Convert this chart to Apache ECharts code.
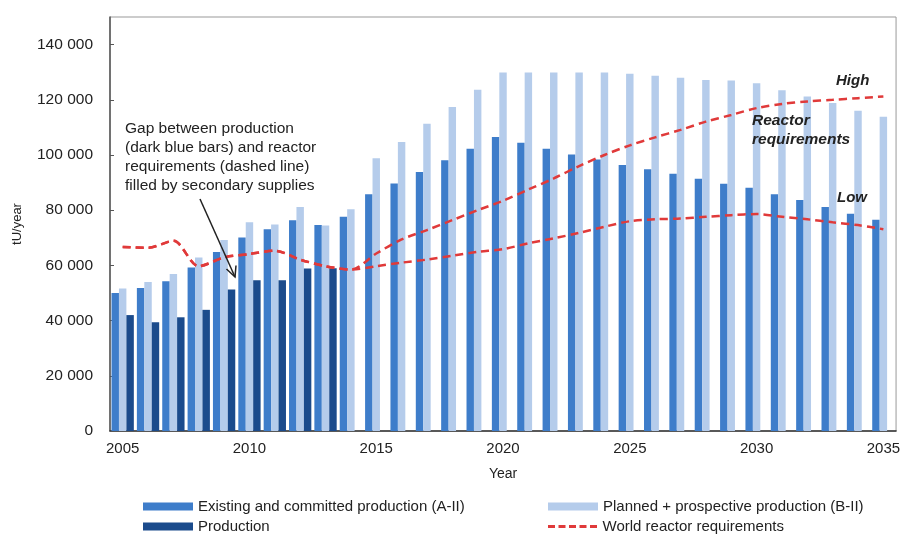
<!DOCTYPE html>
<html>
<head>
<meta charset="utf-8">
<script src="https://cdn.jsdelivr.net/npm/echarts@6/dist/echarts.min.js"></script>
<style>html,body{margin:0;padding:0;background:#fff;}#c{width:903px;height:537px;}</style>
</head>
<body>
<div id="c"></div>
<script>
var years = ['2005','2006','2007','2008','2009','2010','2011','2012','2013','2014','2015','2016','2017','2018','2019','2020','2021','2022','2023','2024','2025','2026','2027','2028','2029','2030','2031','2032','2033','2034','2035'];
var existing = [50000,51800,54300,59200,64900,70100,73100,76400,74600,77600,85800,89700,93800,98100,102300,106500,104400,102300,100200,98400,96400,94800,93200,91400,89600,88100,85800,83700,81200,78700,76500];
var planned = [51600,54000,56900,62900,69200,75600,74800,81200,74500,80300,98800,104700,111300,117400,123600,129900,129900,129900,129900,129900,129400,128700,128000,127200,127000,126000,123500,121200,118800,116000,113900];
var production = [42000,39400,41200,43900,51300,54600,54600,58900,59000,null,null,null,null,null,null,null,null,null,null,null,null,null,null,null,null,null,null,null,null,null,null];
var reqHigh = [66700,66400,68900,59700,62900,64100,65300,62100,59700,58500,64300,69400,72800,76400,80000,83400,87500,91500,96000,100000,103500,106400,109100,112100,114500,117000,118500,119400,120000,120600,121200];
var reqLow = [66700,66400,68900,59700,62900,64100,65300,62100,59700,58500,59700,61000,62100,63500,64900,65900,68000,69800,71800,74000,76000,76700,77000,77600,78200,78600,77600,76700,75600,74600,73100];

var FONT = '"Liberation Sans", Arial, sans-serif';
var BLUE = '#3e7dca', LIGHT = '#b5cceb', DARK = '#1b4b8c', RED = '#e03a3a';
var chart = echarts.init(document.getElementById('c'));
var reqName = 'World reactor requirements';
var legTxt = {fontSize: 15, color: '#222', fontFamily: FONT};
function leg(name, icon, left, top, h) {
  return {data: [{name: name, icon: icon}], orient: 'horizontal', left: left, top: top,
    itemWidth: 50, itemHeight: h, itemGap: 0, padding: 0, textStyle: legTxt};
}
var dashIcon = 'path://M0,0h7v3h-7z M10.5,0h7v3h-7z M21,0h7v3h-7z M31.5,0h7v3h-7z M42,0h7v3h-7z';
chart.setOption({
  animation: false,
  textStyle: {fontFamily: FONT},
  grid: {left: 110, right: 3, top: 17, bottom: 106, show: true, borderColor: '#999', borderWidth: 1},
  legend: [
    leg('Existing and committed production (A-II)', 'rect', 143, 499, 8),
    leg('Production', 'rect', 143, 519, 8),
    leg('Planned + prospective production (B-II)', 'rect', 548, 499, 8),
    leg(reqName, dashIcon, 548, 519, 3)
  ],
  xAxis: {
    type: 'category', data: years, boundaryGap: true,
    name: 'Year', nameLocation: 'middle', nameGap: 36,
    nameTextStyle: {fontSize: 14, color: '#222', fontFamily: FONT},
    axisLine: {lineStyle: {color: '#333', width: 1.5}},
    axisTick: {inside: true, length: 4, interval: 0, lineStyle: {color: '#333'}},
    axisLabel: {interval: 4, fontSize: 15, color: '#222', margin: 10, fontFamily: FONT}
  },
  yAxis: {
    type: 'value', min: 0, max: 150000, interval: 20000,
    name: 'tU/year', nameLocation: 'middle', nameGap: 86, nameRotate: 90,
    nameTextStyle: {fontSize: 13, color: '#222', fontFamily: FONT},
    axisLine: {show: true, lineStyle: {color: '#555', width: 1.5}},
    axisTick: {show: true, inside: true, length: 4, lineStyle: {color: '#555'}},
    splitLine: {show: false},
    axisLabel: {fontSize: 15.5, color: '#222', margin: 17, showMaxLabel: false, fontFamily: FONT,
      formatter: function (v) { if (v >= 150000) return ''; return v === 0 ? '0' : String(v).replace(/(\d)(?=(\d{3})+$)/g, '$1 '); }}
  },
  series: [
    {name: 'Existing and committed production (A-II)', type: 'bar', data: existing, itemStyle: {color: BLUE}, barGap: '0%', barCategoryGap: '12%'},
    {name: 'Planned + prospective production (B-II)', type: 'bar', data: planned, itemStyle: {color: LIGHT}, barGap: '0%', barCategoryGap: '12%'},
    {name: 'Production', type: 'bar', data: production, itemStyle: {color: DARK}, barGap: '0%', barCategoryGap: '12%'},
    {name: reqName, type: 'line', data: reqHigh, smooth: 0.3, symbol: 'none', z: 5,
     lineStyle: {color: RED, width: 2.5, type: [8, 5]}, itemStyle: {color: RED}},
    {name: reqName, type: 'line', data: reqLow, smooth: 0.3, symbol: 'none', z: 5,
     lineStyle: {color: RED, width: 2.5, type: [8, 5]}, itemStyle: {color: RED}}
  ],
  graphic: [
    {type: 'text', left: 125, top: 119, z: 10, style: {text: 'Gap between production\n(dark blue bars) and reactor\nrequirements (dashed line)\nfilled by secondary supplies', font: '15.5px ' + FONT, fill: '#222', lineHeight: 19}},
    {type: 'line', z: 10, shape: {x1: 200, y1: 199, x2: 235, y2: 277}, style: {stroke: '#222', lineWidth: 1.5}},
    {type: 'polyline', z: 10, shape: {points: [[226.5, 269], [235, 277], [236, 265.5]]}, style: {stroke: '#222', lineWidth: 1.5, fill: null}},
    {type: 'text', left: 836, top: 73, z: 10, style: {text: 'High', font: 'italic bold 15px ' + FONT, fill: '#222'}},
    {type: 'text', left: 752, top: 111, z: 10, style: {text: 'Reactor\nrequirements', font: 'italic bold 15.5px ' + FONT, fill: '#222', lineHeight: 19}},
    {type: 'text', left: 837, top: 190, z: 10, style: {text: 'Low', font: 'italic bold 15px ' + FONT, fill: '#222'}}
  ]
});
</script>
</body>
</html>
